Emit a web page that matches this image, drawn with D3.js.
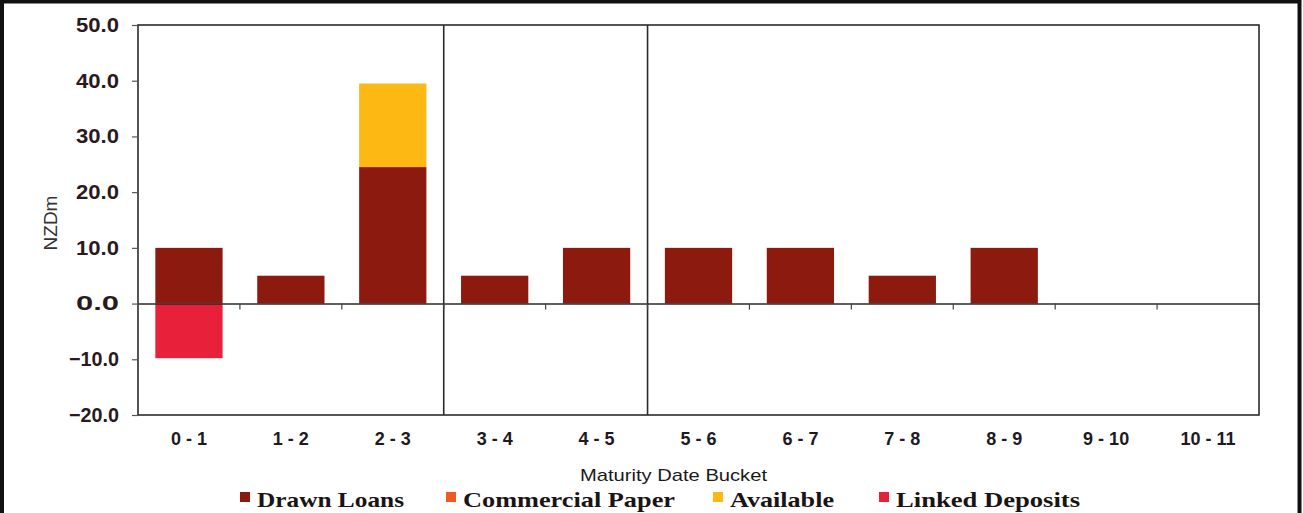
<!DOCTYPE html>
<html>
<head>
<meta charset="utf-8">
<script src="https://cdn.jsdelivr.net/npm/d3@7"></script>
<style>
  html, body { margin: 0; padding: 0; background: #fff; }
  svg { display: block; }
</style>
</head>
<body>
<svg id="chart" width="1303" height="513"></svg>
<script>
// Maturity buckets (years)
const categories = ["0 - 1", "1 - 2", "2 - 3", "3 - 4", "4 - 5", "5 - 6", "6 - 7", "7 - 8", "8 - 9", "9 - 10", "10 - 11"];

// Series values, NZD millions
const drawnLoans      = [10, 5, 24.5, 5, 10, 10, 10, 5, 10, 0, 0];
const commercialPaper = [0, 0, 0, 0, 0, 0, 0, 0, 0, 0, 0];
const available       = [0, 0, 15, 0, 0, 0, 0, 0, 0, 0, 0];
const linkedDeposits  = [-9.8, 0, 0, 0, 0, 0, 0, 0, 0, 0, 0];

const yTicks = [-20, -10, 0, 10, 20, 30, 40, 50];
const seriesNames = ["Drawn Loans", "Commercial Paper", "Available", "Linked Deposits"];
const seriesColors = ["#8c1a0f", "#f15a22", "#fdb813", "#e8203a"];

// Bucket boundaries where the chart is split by vertical rules
const dividerAfter = ["2 - 3", "4 - 5"];

const svg = d3.select("#chart");
const W = 1303, H = 513;
const plot = { left: 138, right: 1259, top: 25, bottom: 415 };

// Outer frame
svg.append("rect").attr("x", 0).attr("y", 0).attr("width", W).attr("height", H).attr("fill", "#fff");
svg.append("path")
  .attr("d", `M2,${H} V1.5 H1299.5 V${H}`)
  .attr("fill", "none").attr("stroke", "#111").attr("stroke-width", 4);

const x = d3.scaleBand().domain(categories).range([plot.left, plot.right]).paddingInner(0.34).paddingOuter(0.17);
const xb = d3.scaleBand().domain(categories).range([plot.left, plot.right]).padding(0);
const y = d3.scaleLinear().domain([-20, 50]).range([plot.bottom, plot.top]);

// Stacked data: positive series stack upward from zero, linked deposits go below
const rows = categories.map((c, i) => ({
  cat: c,
  "Drawn Loans": drawnLoans[i],
  "Commercial Paper": commercialPaper[i],
  "Available": available[i],
  "Linked Deposits": linkedDeposits[i]
}));
const stack = d3.stack().keys(seriesNames).offset(d3.stackOffsetDiverging);
const layers = stack(rows);

const g = svg.append("g");
layers.forEach((layer, li) => {
  g.selectAll(null).data(layer.filter(d => d[1] !== d[0]))
    .enter().append("rect")
    .attr("x", d => x(d.data.cat))
    .attr("width", x.bandwidth())
    .attr("y", d => y(Math.max(d[0], d[1])))
    .attr("height", d => Math.abs(y(d[0]) - y(d[1])))
    .attr("fill", seriesColors[li]);
});

// Plot frame
const frameColor = "#2b2b2b";
svg.append("rect")
  .attr("x", plot.left).attr("y", plot.top)
  .attr("width", plot.right - plot.left).attr("height", plot.bottom - plot.top)
  .attr("fill", "none").attr("stroke", frameColor).attr("stroke-width", 1.6);

// Vertical divider rules
dividerAfter.forEach(c => {
  const xx = xb(c) + xb.bandwidth();
  svg.append("line").attr("x1", xx).attr("x2", xx).attr("y1", plot.top).attr("y2", plot.bottom)
    .attr("stroke", frameColor).attr("stroke-width", 1.6);
});

// Value axis
const yAxis = d3.axisLeft(y).tickValues(yTicks).tickSize(6).tickSizeOuter(0).tickFormat(d3.format(".1f"));
const ya = svg.append("g").attr("transform", `translate(${plot.left},0)`).call(yAxis);
ya.select(".domain").remove();
ya.selectAll(".tick line").attr("stroke", "#555").attr("stroke-width", 1.2);
ya.selectAll(".tick text")
  .attr("x", -19)
  .attr("fill", "#2a1a1e")
  .style("font-family", "'Liberation Sans', Arial, sans-serif")
  .style("font-weight", "bold")
  .style("font-size", "20px")
  .attr("textLength", d => d < 0 ? 50 : 43)
  .attr("lengthAdjust", "spacingAndGlyphs");

// Zero line
const xAxis = d3.axisBottom(xb).tickSize(0).tickSizeOuter(0);
const xa = svg.append("g").attr("transform", `translate(0,${y(0)})`).call(xAxis);
xa.select(".domain").attr("stroke", frameColor).attr("stroke-width", 1.6);
xa.selectAll(".tick text").remove();

// Boundary tick marks on the zero line
const bounds = categories.slice(1).map(c => xb(c));
svg.selectAll(null).data(bounds).enter().append("line")
  .attr("x1", d => d).attr("x2", d => d)
  .attr("y1", y(0)).attr("y2", y(0) + 6)
  .attr("stroke", "#444").attr("stroke-width", 1.2);

// Category labels below the plot
svg.selectAll(null).data(categories).enter().append("text")
  .attr("x", d => xb(d) + xb.bandwidth() / 2)
  .attr("y", 445)
  .attr("text-anchor", "middle")
  .attr("fill", "#1e1a22")
  .style("font-family", "'Liberation Sans', Arial, sans-serif")
  .style("font-weight", "bold")
  .style("font-size", "18px")
  .text(d => d);

// Axis titles
svg.append("text")
  .attr("transform", `translate(57,${(y(20) + y(10)) / 2 + 3}) rotate(-90)`)
  .attr("text-anchor", "middle")
  .attr("fill", "#333")
  .style("font-family", "'Liberation Sans', Arial, sans-serif")
  .style("font-size", "19px")
  .text("NZDm");

svg.append("text")
  .attr("x", 580).attr("y", 481)
  .attr("fill", "#1a1a1a")
  .style("font-family", "'Liberation Sans', Arial, sans-serif")
  .style("font-size", "17px")
  .attr("textLength", 187).attr("lengthAdjust", "spacingAndGlyphs")
  .text("Maturity Date Bucket");

// Legend
const legendX = [240, 446, 713, 879];
const legendW = [147, 212, 104, 184];
const lg = svg.append("g");
seriesNames.forEach((name, i) => {
  lg.append("rect")
    .attr("x", legendX[i]).attr("y", 492)
    .attr("width", 10).attr("height", 10)
    .attr("fill", seriesColors[i]);
  lg.append("text")
    .attr("x", legendX[i] + 17).attr("y", 507)
    .attr("fill", "#1a1414")
    .style("font-family", "'Liberation Serif', 'Times New Roman', serif")
    .style("font-weight", "bold")
    .style("font-size", "22px")
    .attr("textLength", legendW[i]).attr("lengthAdjust", "spacingAndGlyphs")
    .text(name);
});
</script>
</body>
</html>
